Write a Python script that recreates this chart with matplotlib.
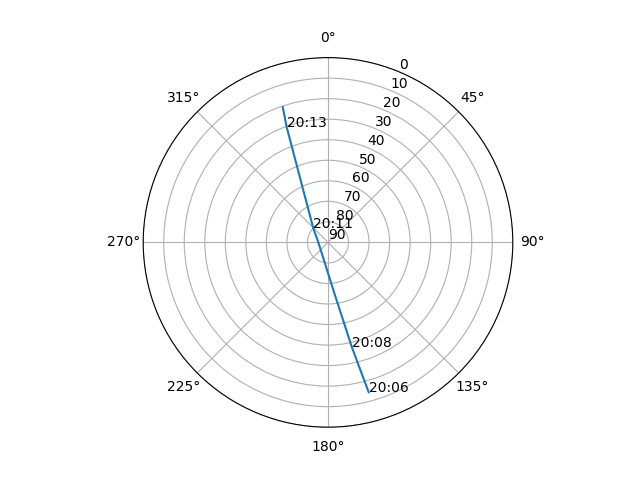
import numpy as np
import matplotlib
matplotlib.use('Agg')
import matplotlib.pyplot as plt

# satellite pass samples (azimuth deg, elevation deg)
azimuth = [164.8, 165.8, 167.2, 172.6, 270.0, 313.8, 336.6, 340.3, 341.5]
elevation = [14.4, 26.2, 37.9, 64.4, 85.3, 80.1, 55.6, 30.3, 20.6]
labels = ['20:06', '', '20:08', '', '', '20:11', '', '20:13', '']

fig = plt.figure(figsize=(6.4, 4.8), dpi=100)
ax = fig.add_subplot(111, projection='polar')
ax.set_theta_zero_location('N')
ax.set_theta_direction(-1)

ax.plot(np.radians(azimuth), elevation)
for az, el, lab in zip(azimuth, elevation, labels):
    if lab:
        ax.annotate(lab, (np.radians(az), el))

ax.set_rlim(90, 0)
ax.set_yticks(range(0, 91, 10))

fig.savefig('out.png')
